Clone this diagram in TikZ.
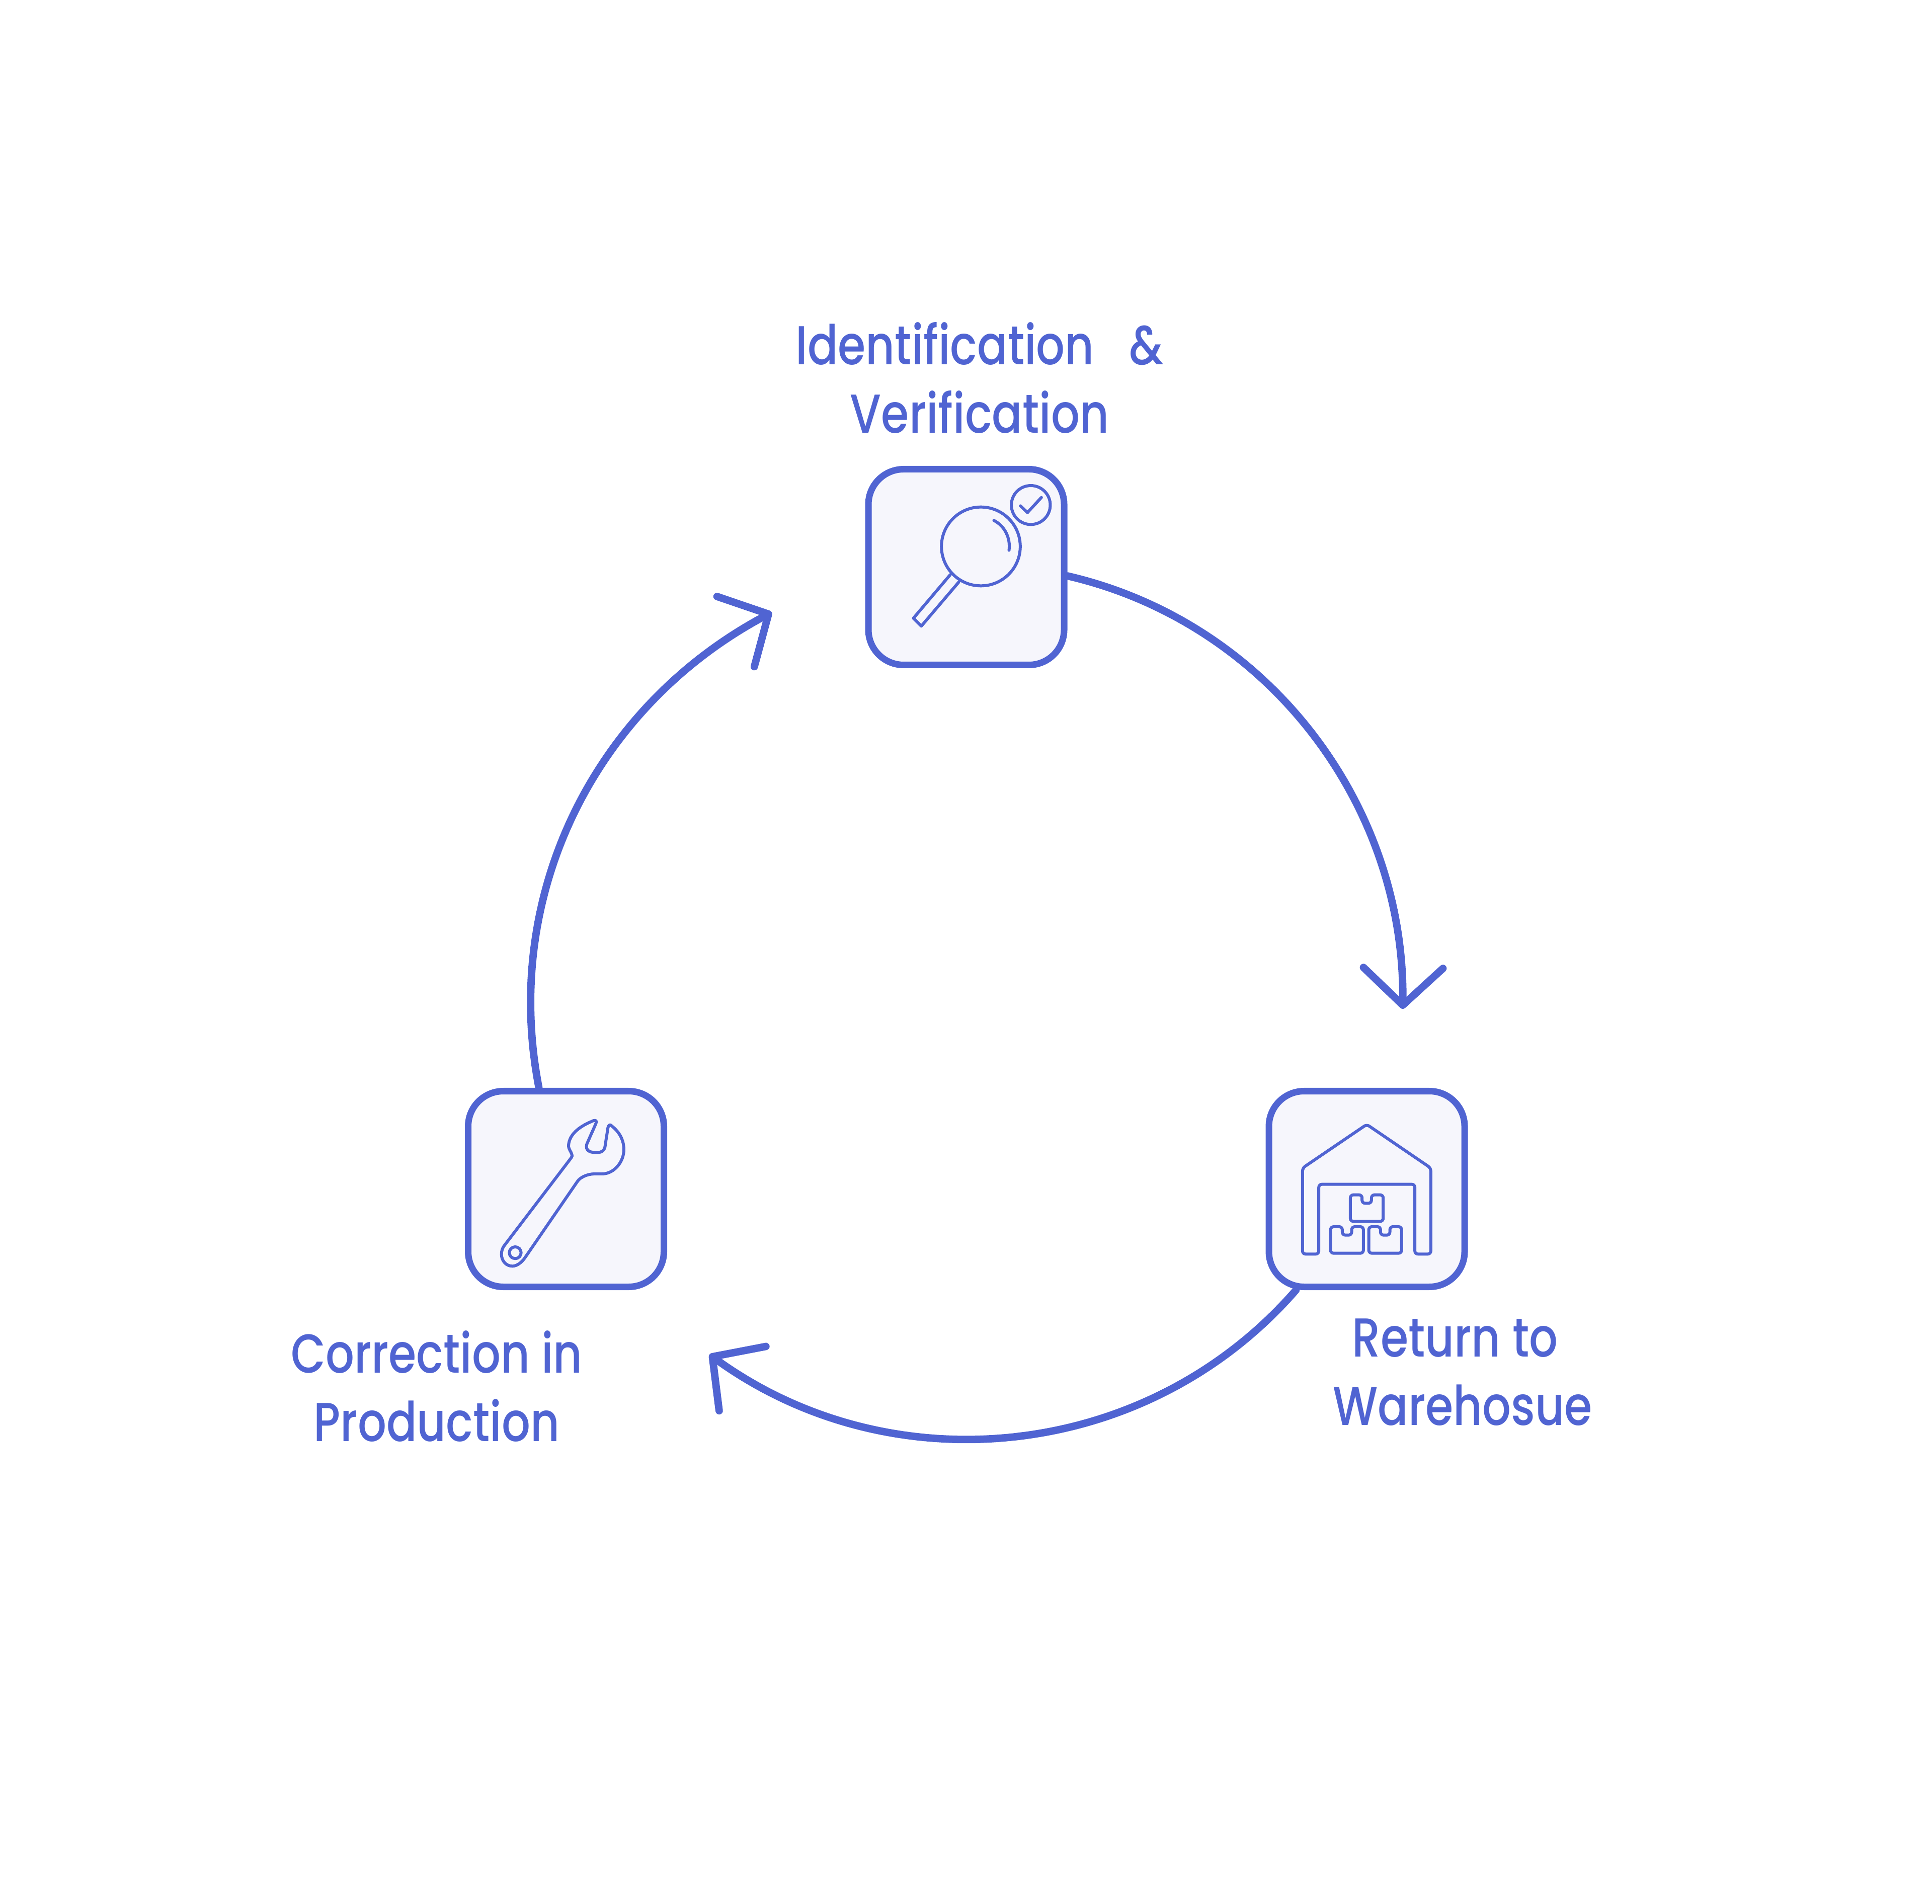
\documentclass[tikz,border=0pt]{standalone}
\usepackage{fontspec}
\setmainfont{Poppins}[UprightFont=* Medium,FakeStretch=0.82]
\usetikzlibrary{arrows.meta}
\definecolor{StepClr}{HTML}{5064D2}
\definecolor{BoxClr}{HTML}{F6F6FC}

\tikzset{
  stepbox/.style={draw=StepClr,fill=BoxClr,line width=3.7pt,rounded corners=.7cm,minimum size=3.89cm},
  steplabel/.style={text=StepClr,align=center,font=\fontsize{31}{38.6}\selectfont},
  ring/.style={draw=StepClr,line width=4.2pt,line cap=round,line join=round,
    -{Straight Barb[length=.74cm,width=1.58cm,line width=4.2pt,round]}},
  icon/.style={draw=StepClr,line width=1.7pt,line cap=round,line join=round,x=.03333mm,y=-.03333mm}
}

\begin{document}
\begin{tikzpicture}
\useasboundingbox (0,0) rectangle (38.4,37.83);

% boxes
\node[stepbox] (verify) at (19.205,26.56) {};
\node[stepbox] (fix) at (11.25,14.2) {};
\node[stepbox] (store) at (27.165,14.2) {};

% labels
\node[steplabel] (verifytxt) at (19.47,30.32) {Identification\ \ \ \&\\Verification};
\node[steplabel] (storetxt) at (29.07,10.56) {Return to\rule{.3cm}{0pt}\\Warehosue};
\node[steplabel] (fixtxt) at (8.68,10.28) {Correction in\\Production};

% arrow ends on the ring
\coordinate (endA) at (27.88,17.78);
\coordinate (endB) at (14.1,10.91);
\coordinate (endC) at (15.34,25.66);

\draw[ring] (verify.-5.6) to[out=-13,in=89.3,looseness=.96] (endA);
\draw[ring] (store.235.6) to[out=229,in=-36,looseness=.98] (endB);
\draw[ring] (fix.105.4) to[out=101,in=-152,looseness=.96] (endC);

% magnifier
\begin{scope}[shift={(verify.center)},icon]
\draw (87,-123) circle[radius=235];
\draw (385,-370) circle[radius=116];
\draw (323,-365) -- (365,-325) -- (448,-415);
\draw (165,-278) .. controls (230,-245) and (265,-172) .. (255,-100);
\draw (-95,45) -- (-315,305) -- (-268,352) -- (-45,90);
\end{scope}

% wrench
\begin{scope}[shift={(fix.center)},icon]
\draw (-370,340) -- (15,-165) .. controls (30,-185) and (40,-195) .. (35,-205)
  .. controls (30,-225) and (15,-235) .. (15,-260)
  .. controls (20,-335) and (95,-380) .. (165,-408)
  .. controls (178,-412) and (185,-405) .. (178,-390)
  -- (125,-270) .. controls (110,-225) and (150,-215) .. (190,-218)
  .. controls (215,-218) and (228,-232) .. (232,-250)
  -- (250,-365) .. controls (255,-385) and (265,-385) .. (270,-378)
  .. controls (320,-340) and (345,-290) .. (345,-235)
  .. controls (345,-160) and (285,-90) .. (215,-90)
  -- (165,-90) .. controls (125,-88) and (85,-70) .. (68,-45)
  -- (-245,410) .. controls (-265,440) and (-295,460) .. (-320,460)
  .. controls (-360,460) and (-385,425) .. (-385,390)
  .. controls (-385,370) and (-380,355) .. (-370,340) -- cycle;
\draw (-303,380) circle[radius=35];
\end{scope}

% warehouse
\begin{scope}[shift={(store.center)},icon,rounded corners=.6mm]
\draw (-383,388) -- (-383,-125) -- (0,-385) -- (382,-125) -- (382,388) -- (287,388)
  -- (287,-28) -- (-286,-28) -- (-286,388) -- cycle;
\foreach \bx/\by in {0/35,-118/225,110/225}
  \draw (\bx,\by) ++(-28,0) -- ++(0,50) -- ++(56,0) -- ++(0,-50) -- ++(70,0)
    -- ++(0,158) -- ++(-196,0) -- ++(0,-158) -- cycle;
\end{scope}

\end{tikzpicture}
\end{document}
